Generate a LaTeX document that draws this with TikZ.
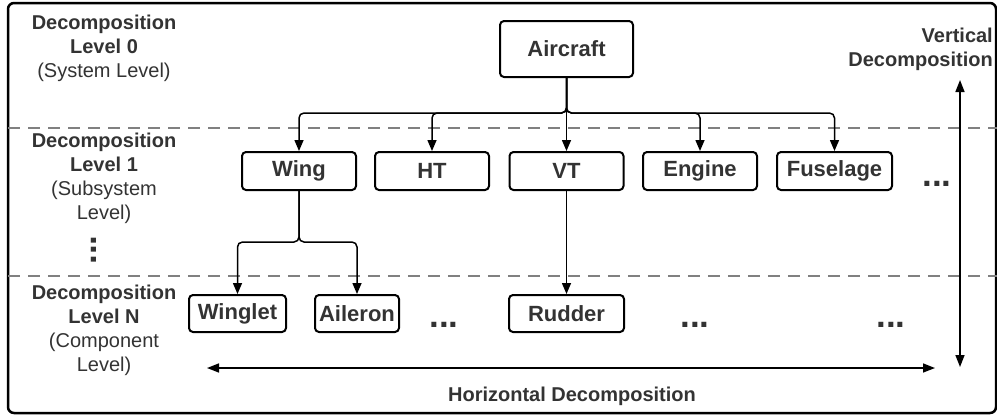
\documentclass[tikz,border=0pt]{standalone}
\usepackage{fontspec}
\setmainfont{Liberation Sans}
\usetikzlibrary{arrows.meta}
\definecolor{txt}{HTML}{333333}
\definecolor{dashc}{HTML}{808080}
\begin{document}
\begin{tikzpicture}[x=1pt,y=1pt,
  box/.style={draw=black, line width=2pt, rounded corners=4pt, text=txt,
    font=\fontsize{22}{26}\selectfont\bfseries, inner sep=0pt, minimum height=38pt},
  conn/.style={line width=1.5pt, rounded corners=5pt, -{Triangle[length=11pt,width=9pt]}},
  dbl/.style={line width=1.5pt, {Triangle[length=12pt,width=9pt]}-{Triangle[length=12pt,width=9pt]}},
  lab/.style={text=txt, align=center, font=\fontsize{20}{24}\selectfont, inner sep=0pt, anchor=north},
  dots/.style={text=txt, font=\fontsize{35}{35}\selectfont\bfseries, inner sep=0pt, anchor=base},
  sep/.style={draw=dashc, line width=1.3pt, dash pattern=on 12pt off 8pt}]
\useasboundingbox (0,0) rectangle (997,-416);
\draw[line width=2.5pt, rounded corners=6pt] (8,-3) rectangle (996,-413);

% separators
\coordinate (s1a) at (8,-128); \coordinate (s1b) at (997,-128);
\coordinate (s2a) at (8,-276); \coordinate (s2b) at (997,-276);
\draw[sep] (s1a) -- (s1b);
\draw[sep] (s2a) -- (s2b);

% left labels
\node[lab] (l0) at (104,-15) {\textbf{Decomposition}\\\textbf{Level 0}\\(System Level)};
\node[lab] (l1) at (104,-133) {\textbf{Decomposition}\\\textbf{Level 1}\\(Subsystem\\Level)};
\node[lab] (ln) at (104,-285) {\textbf{Decomposition}\\\textbf{Level N}\\(Component\\Level)};
\node[dots, rotate=90] (vdots) at (96,-250) {...};

% boxes
\node[box, minimum width=133pt, minimum height=56pt] (air) at (566.5,-49) {Aircraft};
\node[box, minimum width=114pt] (wing) at (299,-171) {Wing};
\node[box, minimum width=114pt] (ht) at (432,-171) {HT};
\node[box, minimum width=114pt] (vt) at (566.5,-171) {VT};
\node[box, minimum width=114pt] (engine) at (700,-171) {Engine};
\node[box, minimum width=115pt] (fus) at (834.5,-171) {Fuselage};
\node[box, minimum width=97pt, minimum height=37pt] (winglet) at (237.5,-313.5) {Winglet};
\node[box, minimum width=84pt, minimum height=37pt] (aileron) at (357,-313.5) {Aileron};
\node[box, minimum width=115pt, minimum height=37pt] (rudder) at (566.5,-313.5) {Rudder};

% ellipses
\node[dots] (d1) at (937,-186) {...};
\node[dots] (d2) at (444,-327) {...};
\node[dots] (d3) at (695,-327) {...};
\node[dots] (d4) at (891,-327) {...};

% connectors
\coordinate (bus) at (566.5,-113);
\draw[conn] (air.south) |- (wing.north |- bus) -- (wing.north);
\draw[conn] (air.south) |- (ht.north |- bus) -- (ht.north);
\draw[conn] (air.south) -- (vt.north);
\draw[conn] (air.south) |- (engine.north |- bus) -- (engine.north);
\draw[conn] (air.south) |- (fus.north |- bus) -- (fus.north);
\coordinate (wbus) at (299,-242);
\draw[conn] (wing.south) |- (winglet.north |- wbus) -- (winglet.north);
\draw[conn] (wing.south) |- (aileron.north |- wbus) -- (aileron.north);
\draw[conn] (vt.south) -- (rudder.north);

% decomposition axes
\coordinate (vtop) at (960,-80); \coordinate (vbot) at (960,-367);
\draw[dbl] (vbot) -- (vtop);
\node[lab, align=right, anchor=north east, font=\fontsize{20}{24}\selectfont\bfseries] (vlab) at (993,-28) {Vertical\\Decomposition};
\coordinate (hl) at (207,-368); \coordinate (hr) at (935,-368);
\draw[dbl] (hl) -- (hr);
\node[lab, font=\fontsize{20}{24}\selectfont\bfseries] (hlab) at (572,-387) {Horizontal Decomposition};
\end{tikzpicture}
\end{document}
